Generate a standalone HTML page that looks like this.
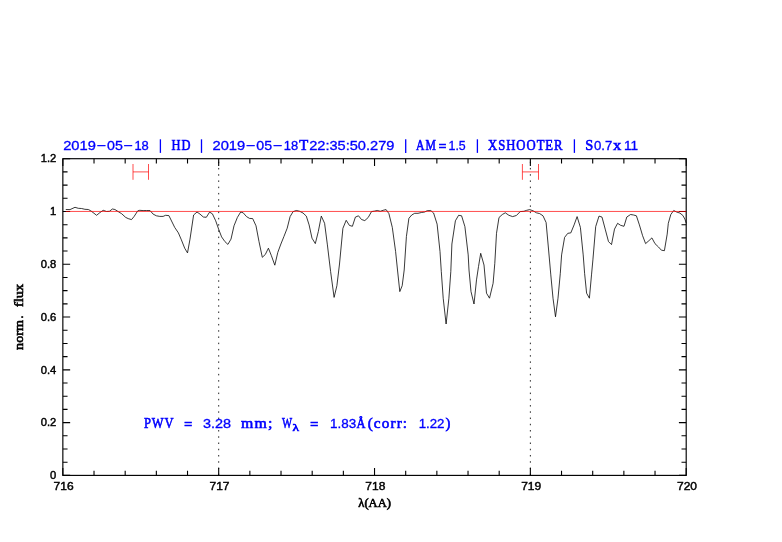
<!DOCTYPE html>
<html lang="en"><head><meta charset="utf-8"><title>PWV spectrum plot</title>
<style>html,body{margin:0;padding:0;background:#fff;}body{width:782px;height:542px;overflow:hidden;}svg{display:block;will-change:transform;}.t{font-family:"Liberation Sans",sans-serif;font-size:11.5px;fill:#000;stroke:#000;stroke-width:0.45px;}.s{font-family:"Liberation Serif",serif;stroke:#000;stroke-width:0.6px;font-variant-ligatures:none;}.n{font-family:"Liberation Sans",sans-serif;stroke-width:0.32px;}.b{fill:#0000ff;stroke:#0000ff;}</style></head><body>
<svg width="782" height="542" viewBox="0 0 782 542">
<rect x="0" y="0" width="782" height="542" fill="#ffffff"/>
<path d="M62.85 475.40v-7.3M62.85 158.70v7.3M94.02 475.40v-4.7M94.02 158.70v4.7M125.18 475.40v-4.7M125.18 158.70v4.7M156.35 475.40v-4.7M156.35 158.70v4.7M187.52 475.40v-4.7M187.52 158.70v4.7M218.69 475.40v-7.3M218.69 158.70v7.3M249.86 475.40v-4.7M249.86 158.70v4.7M281.02 475.40v-4.7M281.02 158.70v4.7M312.19 475.40v-4.7M312.19 158.70v4.7M343.36 475.40v-4.7M343.36 158.70v4.7M374.53 475.40v-7.3M374.53 158.70v7.3M405.69 475.40v-4.7M405.69 158.70v4.7M436.86 475.40v-4.7M436.86 158.70v4.7M468.03 475.40v-4.7M468.03 158.70v4.7M499.19 475.40v-4.7M499.19 158.70v4.7M530.36 475.40v-7.3M530.36 158.70v7.3M561.53 475.40v-4.7M561.53 158.70v4.7M592.70 475.40v-4.7M592.70 158.70v4.7M623.87 475.40v-4.7M623.87 158.70v4.7M655.03 475.40v-4.7M655.03 158.70v4.7M686.20 475.40v-7.3M686.20 158.70v7.3M62.85 475.40h7.3M686.20 475.40h-7.3M62.85 462.20h4.7M686.20 462.20h-4.7M62.85 449.01h4.7M686.20 449.01h-4.7M62.85 435.81h4.7M686.20 435.81h-4.7M62.85 422.62h7.3M686.20 422.62h-7.3M62.85 409.42h4.7M686.20 409.42h-4.7M62.85 396.22h4.7M686.20 396.22h-4.7M62.85 383.03h4.7M686.20 383.03h-4.7M62.85 369.83h7.3M686.20 369.83h-7.3M62.85 356.64h4.7M686.20 356.64h-4.7M62.85 343.44h4.7M686.20 343.44h-4.7M62.85 330.25h4.7M686.20 330.25h-4.7M62.85 317.05h7.3M686.20 317.05h-7.3M62.85 303.85h4.7M686.20 303.85h-4.7M62.85 290.66h4.7M686.20 290.66h-4.7M62.85 277.46h4.7M686.20 277.46h-4.7M62.85 264.27h7.3M686.20 264.27h-7.3M62.85 251.07h4.7M686.20 251.07h-4.7M62.85 237.88h4.7M686.20 237.88h-4.7M62.85 224.68h4.7M686.20 224.68h-4.7M62.85 211.48h7.3M686.20 211.48h-7.3M62.85 198.29h4.7M686.20 198.29h-4.7M62.85 185.09h4.7M686.20 185.09h-4.7M62.85 171.90h4.7M686.20 171.90h-4.7M62.85 158.70h7.3M686.20 158.70h-7.3" stroke="#000" stroke-width="1.1" fill="none"/>
<rect x="62.85" y="158.7" width="623.35" height="316.70" fill="none" stroke="#000" stroke-width="1.15"/>
<line x1="218.69" y1="161.71" x2="218.69" y2="475.40" stroke="#000" stroke-width="0.85" stroke-dasharray="1.5 4.74"/>
<line x1="530.36" y1="161.71" x2="530.36" y2="475.40" stroke="#000" stroke-width="0.85" stroke-dasharray="1.5 4.74"/>
<polyline fill="none" stroke="#000" stroke-width="0.78" stroke-linejoin="round" points="65.8,209.5 70.0,209.6 75.0,207.3 78.3,208.3 81.6,208.5 84.9,209.3 88.3,209.5 90.8,210.8 96.6,215.3 99.9,212.6 103.2,210.3 106.5,211.5 109.4,211.3 112.4,209.0 114.9,209.5 118.2,211.6 121.5,213.6 125.7,217.4 128.2,218.6 131.5,219.6 134.0,216.6 137.8,210.8 139.8,210.3 143.1,210.6 146.5,210.5 150.1,210.6 153.1,214.1 156.4,215.8 159.8,216.4 163.1,216.4 165.6,215.3 168.9,215.6 174.7,227.4 178.4,232.9 181.4,239.9 184.7,248.2 187.5,252.9 190.0,239.1 193.6,215.0 197.0,212.0 200.0,214.1 203.3,217.0 206.3,217.3 209.6,212.1 212.4,213.8 215.7,220.8 218.6,229.1 221.6,236.9 224.9,241.6 227.9,244.4 231.0,239.1 234.0,225.8 237.4,217.4 240.7,212.0 243.2,212.8 246.5,216.6 249.5,218.4 252.7,218.6 256.0,225.8 259.0,241.6 262.3,257.3 265.3,254.5 268.4,248.2 271.4,255.7 274.8,265.2 277.8,252.4 280.9,244.0 283.9,236.6 287.2,228.2 290.1,216.6 293.1,211.6 296.4,210.5 299.7,211.3 303.0,213.0 306.3,216.1 309.1,224.9 312.0,238.2 315.3,243.6 318.3,231.6 321.3,216.1 324.6,223.3 327.4,244.9 330.6,271.5 334.1,297.4 336.9,285.7 339.5,264.0 342.9,228.3 346.2,220.3 349.4,225.4 352.4,226.3 355.4,217.1 358.5,215.8 361.5,219.5 364.8,220.6 368.2,217.5 371.5,211.6 374.5,211.1 377.3,210.5 380.3,211.3 383.1,210.3 386.1,209.6 388.9,213.6 392.3,227.4 395.6,251.5 397.5,270.0 399.8,291.6 402.2,285.7 404.2,270.0 406.4,236.6 408.9,218.3 411.7,215.0 414.7,213.3 418.0,213.3 421.4,212.5 424.7,212.0 427.2,210.7 430.8,210.6 433.6,213.0 437.1,224.1 440.0,251.5 441.3,271.6 443.2,298.2 446.1,324.0 448.9,298.2 450.8,271.6 451.9,244.0 455.4,220.8 458.6,215.3 461.6,215.8 464.9,226.6 468.2,254.9 469.0,270.0 471.0,291.6 474.0,304.0 476.5,279.9 478.5,266.6 480.7,253.3 484.0,265.0 486.5,293.2 489.5,298.2 493.1,283.3 494.8,263.3 496.5,233.3 499.0,217.5 502.3,214.5 505.3,212.8 508.9,215.3 512.6,216.6 516.4,215.5 520.2,211.6 523.9,211.3 526.7,210.3 529.7,209.6 533.1,210.8 536.4,212.8 539.7,213.6 543.0,215.8 546.1,222.5 548.6,250.0 550.8,274.9 553.0,298.2 555.5,316.8 558.0,298.2 560.3,273.3 561.6,254.9 564.6,237.4 567.8,233.3 570.8,232.9 574.1,224.9 577.1,216.6 580.4,227.4 583.2,254.9 584.6,273.3 586.6,293.2 589.4,298.2 591.5,274.9 592.9,259.9 595.7,226.6 599.0,216.1 602.0,217.1 605.2,229.1 608.5,241.6 611.5,244.6 614.5,229.1 617.6,223.3 620.6,225.3 624.0,226.3 626.8,217.0 630.6,214.5 633.6,215.0 636.4,215.8 639.4,224.9 642.6,235.7 645.6,243.6 648.9,240.7 651.9,237.9 655.0,243.7 658.4,246.9 661.4,250.2 664.4,250.7 667.2,234.1 668.3,223.3 670.8,214.5 673.7,210.5 676.6,212.0 679.9,213.1 682.8,215.4 684.9,219.1 686.3,223.3"/>
<line x1="65.8" y1="211.45" x2="686.20" y2="211.45" stroke="#ff0000" stroke-width="0.7"/>
<path d="M133.0 164v15.8M148.5 164v15.8M133.0 171.9H148.5" stroke="#ff0000" stroke-width="0.7" fill="none"/>
<path d="M522.4 164v15.8M538.5 164v15.8M522.4 171.9H538.5" stroke="#ff0000" stroke-width="0.7" fill="none"/>
<text class="t" transform="translate(56.3 162.45) scale(0.975 1)" x="0" y="0" text-anchor="end"><tspan class="o">1</tspan>.2</text>
<text class="t" transform="translate(56.3 215.23) scale(0.975 1)" x="0" y="0" text-anchor="end"><tspan class="o">1</tspan></text>
<text class="t" transform="translate(56.3 268.02) scale(0.975 1)" x="0" y="0" text-anchor="end">0.8</text>
<text class="t" transform="translate(56.3 320.80) scale(0.975 1)" x="0" y="0" text-anchor="end">0.6</text>
<text class="t" transform="translate(56.3 373.58) scale(0.975 1)" x="0" y="0" text-anchor="end">0.4</text>
<text class="t" transform="translate(56.3 426.37) scale(0.975 1)" x="0" y="0" text-anchor="end">0.2</text>
<text class="t" transform="translate(56.3 479.15) scale(0.975 1)" x="0" y="0" text-anchor="end">0</text>
<text class="t" transform="translate(63.65 490.3) scale(1.045 1)" x="0" y="0" text-anchor="middle">7<tspan class="o">1</tspan>6</text>
<text class="t" transform="translate(219.49 490.3) scale(1.045 1)" x="0" y="0" text-anchor="middle">7<tspan class="o">1</tspan>7</text>
<text class="t" transform="translate(375.33 490.3) scale(1.045 1)" x="0" y="0" text-anchor="middle">7<tspan class="o">1</tspan>8</text>
<text class="t" transform="translate(531.16 490.3) scale(1.045 1)" x="0" y="0" text-anchor="middle">7<tspan class="o">1</tspan>9</text>
<text class="t" transform="translate(687.00 490.3) scale(1.045 1)" x="0" y="0" text-anchor="middle">720</text>
<text class="s" font-size="11.5" x="358.3" y="507" textLength="32.6" lengthAdjust="spacingAndGlyphs">λ(AA)</text>
<g transform="translate(22.9 0) rotate(-90)"><text class="s" font-size="12.5" x="-349.9" y="0" textLength="29.8" lengthAdjust="spacingAndGlyphs">norm</text><text class="s" font-size="12.5" x="-318.6" y="0">.</text><text class="s" font-size="12.5" x="-307" y="0" textLength="23.1" lengthAdjust="spacingAndGlyphs">flux</text></g>
<text class="n b" font-size="13" x="63.2" y="150.1" textLength="32.7" lengthAdjust="spacingAndGlyphs">20<tspan class="o">1</tspan>9</text>
<text class="n b" font-size="13" x="96.7" y="150.1" textLength="9.3" lengthAdjust="spacingAndGlyphs">−</text>
<text class="n b" font-size="13" x="107.0" y="150.1" textLength="15.8" lengthAdjust="spacingAndGlyphs">05</text>
<text class="n b" font-size="13" x="123.6" y="150.1" textLength="9.3" lengthAdjust="spacingAndGlyphs">−</text>
<text class="n b" font-size="13" x="134.4" y="150.1" textLength="14.4" lengthAdjust="spacingAndGlyphs"><tspan class="o">1</tspan>8</text>
<text class="s b" font-size="14.5" x="171.6" y="150.35" textLength="19.9" lengthAdjust="spacingAndGlyphs" style="letter-spacing:1.1px">HD</text>
<text class="n b" font-size="13" x="212.5" y="150.1" textLength="32.7" lengthAdjust="spacingAndGlyphs">20<tspan class="o">1</tspan>9</text>
<text class="n b" font-size="13" x="246.0" y="150.1" textLength="9.3" lengthAdjust="spacingAndGlyphs">−</text>
<text class="n b" font-size="13" x="256.3" y="150.1" textLength="15.8" lengthAdjust="spacingAndGlyphs">05</text>
<text class="n b" font-size="13" x="272.9" y="150.1" textLength="9.3" lengthAdjust="spacingAndGlyphs">−</text>
<text class="n b" font-size="13" x="283.7" y="150.1" textLength="14.4" lengthAdjust="spacingAndGlyphs"><tspan class="o">1</tspan>8</text>
<text class="s b" font-size="14.5" x="299.3" y="150.35" textLength="9.0" lengthAdjust="spacingAndGlyphs">T</text>
<text class="n b" font-size="13" x="309.2" y="150.1" textLength="85.2" lengthAdjust="spacingAndGlyphs">22:35:50.279</text>
<text class="s b" font-size="14.5" x="416.1" y="150.35" textLength="20.6" lengthAdjust="spacingAndGlyphs" style="letter-spacing:1.1px">AM</text>
<text class="n b" font-size="13" x="438.6" y="150.1" textLength="8.0" lengthAdjust="spacingAndGlyphs">=</text>
<text class="n b" font-size="13" x="448.5" y="150.1" textLength="17.2" lengthAdjust="spacingAndGlyphs"><tspan class="o">1</tspan>.5</text>
<text class="s b" font-size="14.5" x="488.1" y="150.35" textLength="75.4" lengthAdjust="spacingAndGlyphs" style="letter-spacing:1.1px">XSHOOTER</text>
<text class="s b" font-size="14.5" x="585.2" y="150.35" textLength="8.0" lengthAdjust="spacingAndGlyphs">S</text>
<text class="n b" font-size="13" x="594.0" y="150.1" textLength="18.3" lengthAdjust="spacingAndGlyphs">0.7</text>
<text class="s b" font-size="14.5" x="613.1" y="150.35" textLength="8.3" lengthAdjust="spacingAndGlyphs">x</text>
<text class="n b" font-size="13" x="623.9" y="150.1" textLength="14.1" lengthAdjust="spacingAndGlyphs"><tspan class="o">1</tspan><tspan class="o">1</tspan></text>
<line x1="160.4" y1="139.3" x2="160.4" y2="152.9" stroke="#0000ff" stroke-width="1.3"/>
<line x1="201.5" y1="139.3" x2="201.5" y2="152.9" stroke="#0000ff" stroke-width="1.3"/>
<line x1="405.7" y1="139.3" x2="405.7" y2="152.9" stroke="#0000ff" stroke-width="1.3"/>
<line x1="477.4" y1="139.3" x2="477.4" y2="152.9" stroke="#0000ff" stroke-width="1.3"/>
<line x1="574.4" y1="139.3" x2="574.4" y2="152.9" stroke="#0000ff" stroke-width="1.3"/>
<text class="s b" font-size="14.5" x="143.9" y="428.0" textLength="30.6" lengthAdjust="spacingAndGlyphs" style="letter-spacing:1.1px">PWV</text>
<text class="n b" font-size="13" x="184.0" y="427.6" textLength="8.4" lengthAdjust="spacingAndGlyphs">=</text>
<text class="n b" font-size="13" x="202.9" y="427.6" textLength="28.1" lengthAdjust="spacingAndGlyphs">3.28</text>
<text class="s b" font-size="14.5" x="241.1" y="428.0" textLength="32.6" lengthAdjust="spacingAndGlyphs" style="letter-spacing:1.1px">mm;</text>
<text class="s b" font-size="14.5" x="282.1" y="428.0" textLength="10.1" lengthAdjust="spacingAndGlyphs">W</text>
<text class="s b" font-size="9.5" x="292.4" y="430.7" textLength="6.5" lengthAdjust="spacingAndGlyphs">λ</text>
<text class="n b" font-size="13" x="310.0" y="427.6" textLength="8.5" lengthAdjust="spacingAndGlyphs">=</text>
<text class="n b" font-size="13" x="330.1" y="427.6" textLength="26.2" lengthAdjust="spacingAndGlyphs"><tspan class="o">1</tspan>.83</text>
<text class="s b" font-size="14.5" x="356.5" y="428.0" textLength="9.0" lengthAdjust="spacingAndGlyphs">Å</text>
<text class="s b" font-size="14.5" x="367.7" y="428.0" textLength="40.5" lengthAdjust="spacingAndGlyphs" style="letter-spacing:1.1px">(corr:</text>
<text class="n b" font-size="13" x="418.7" y="427.6" textLength="25.8" lengthAdjust="spacingAndGlyphs"><tspan class="o">1</tspan>.22</text>
<text class="s b" font-size="14.5" x="445.5" y="428.0" textLength="4.9" lengthAdjust="spacingAndGlyphs">)</text>
</svg></body></html>
